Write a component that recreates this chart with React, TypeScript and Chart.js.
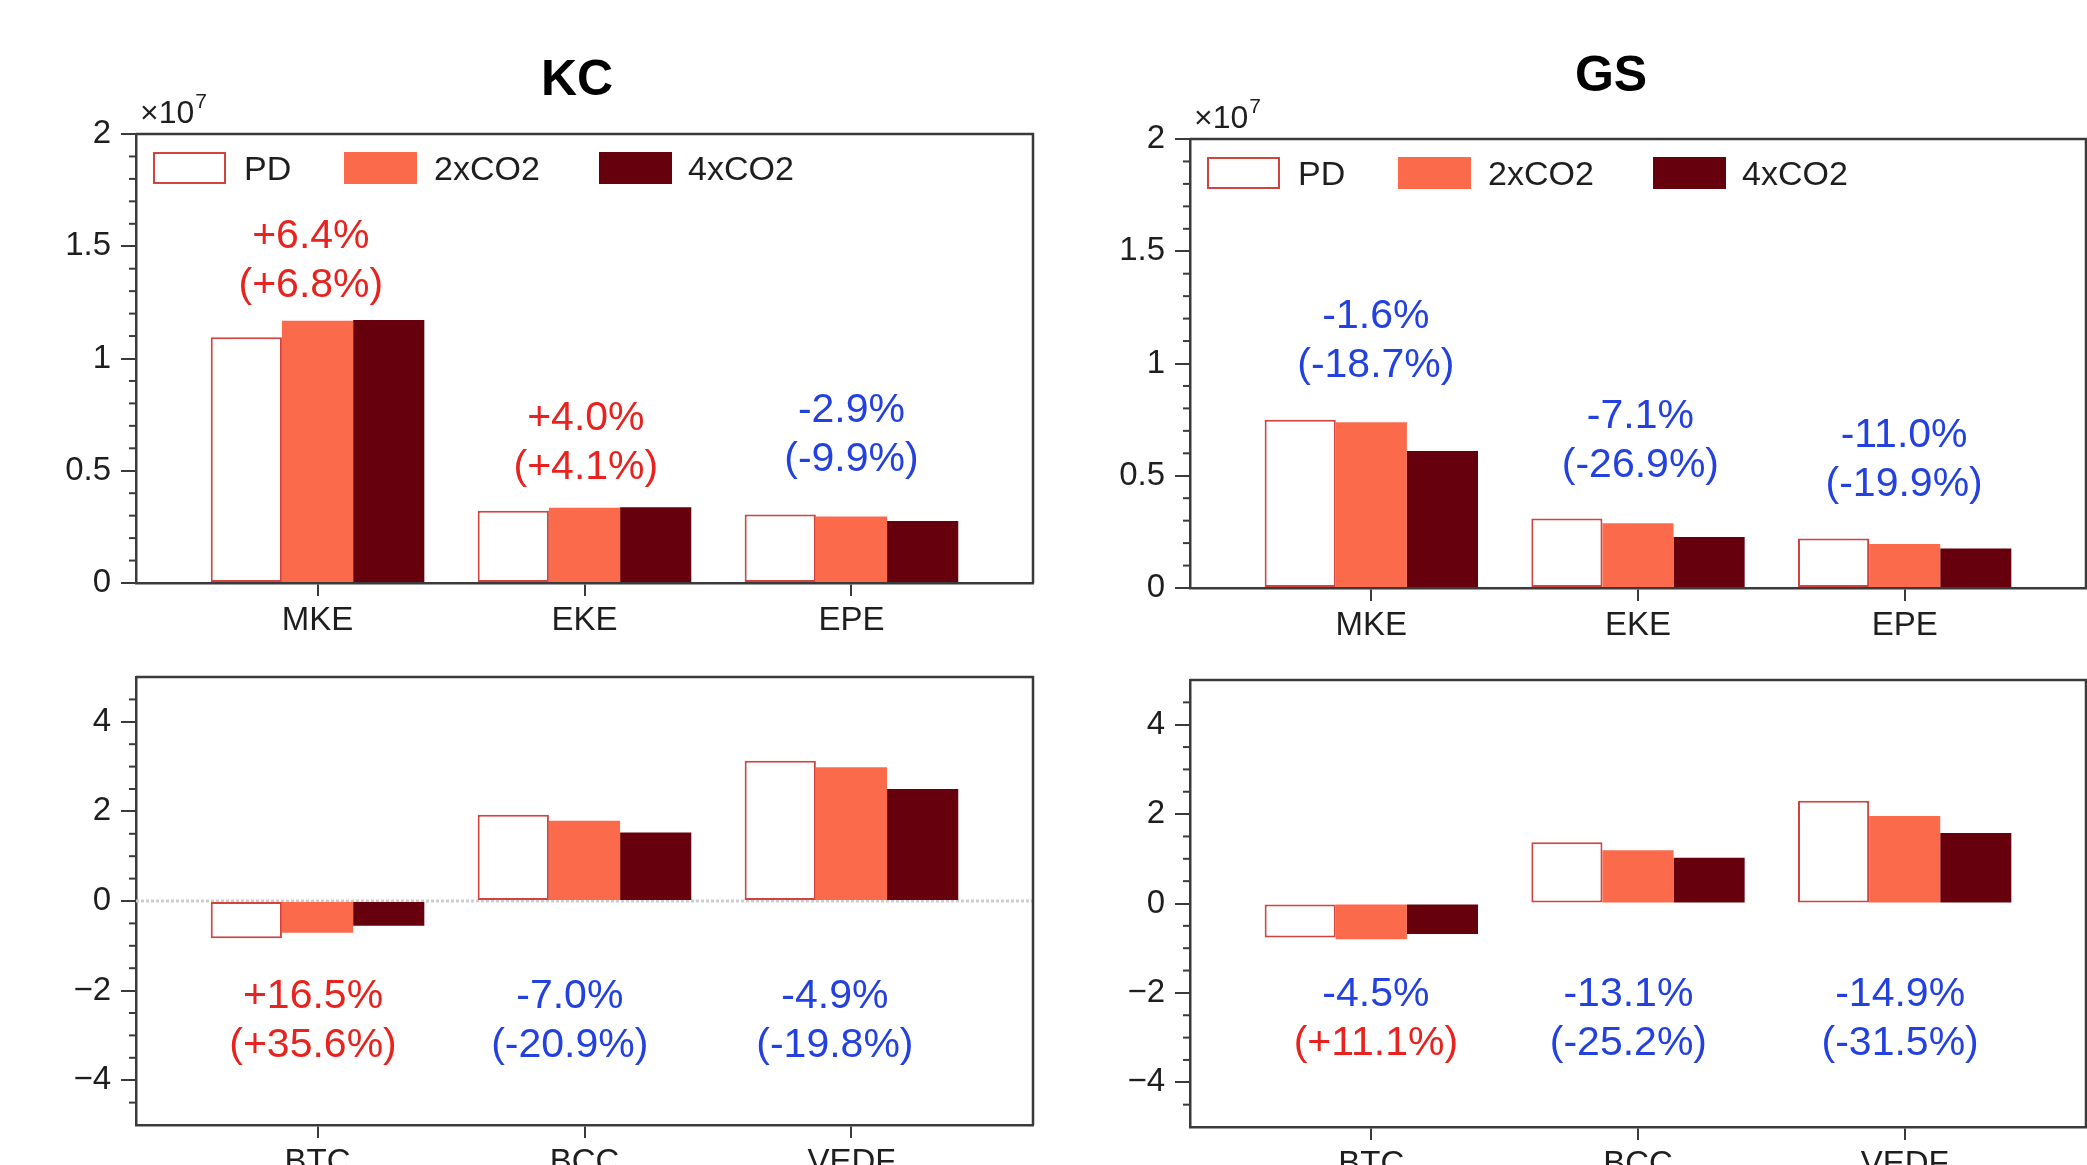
import React, { useEffect, useRef } from "react";
import { Chart, registerables } from "chart.js";

Chart.register(...registerables);

// ---------- data ----------
const topCategories = ["MKE", "EKE", "EPE"];
const bottomCategories = ["BTC", "BCC", "VEDF"];
const seriesNames = ["PD", "2xCO2", "4xCO2"];

// KC energy (×10^7)
const kcTopPD = [1.095, 0.322, 0.305];
const kcTop2x = [1.168, 0.335, 0.296];
const kcTop4x = [1.172, 0.337, 0.276];
// GS energy (×10^7)
const gsTopPD = [0.75, 0.31, 0.22];
const gsTop2x = [0.738, 0.288, 0.196];
const gsTop4x = [0.61, 0.227, 0.176];
// KC conversion terms
const kcBotPD = [-0.83, 1.925, 3.13];
const kcBot2x = [-0.71, 1.79, 2.985];
const kcBot4x = [-0.55, 1.53, 2.5];
// GS conversion terms
const gsBotPD = [-0.76, 1.373, 2.3];
const gsBot2x = [-0.8, 1.194, 1.96];
const gsBot4x = [-0.68, 1.025, 1.575];

const topTickValues = [0, 0.5, 1, 1.5, 2];
const topTickLabels = ["0", "0.5", "1", "1.5", "2"];
const bottomTickValues = [-4, -2, 0, 2, 4];
const bottomTickLabels = ["\u22124", "\u22122", "0", "2", "4"];

// percentage annotations: [line1, line2]
const kcTopText1 = ["+6.4%", "+4.0%", "-2.9%"];
const kcTopText2 = ["(+6.8%)", "(+4.1%)", "(-9.9%)"];
const gsTopText1 = ["-1.6%", "-7.1%", "-11.0%"];
const gsTopText2 = ["(-18.7%)", "(-26.9%)", "(-19.9%)"];
const kcBotText1 = ["+16.5%", "-7.0%", "-4.9%"];
const kcBotText2 = ["(+35.6%)", "(-20.9%)", "(-19.8%)"];
const gsBotText1 = ["-4.5%", "-13.1%", "-14.9%"];
const gsBotText2 = ["(+11.1%)", "(-25.2%)", "(-31.5%)"];

// annotation anchors (data coordinates of first line centre)
const kcTopAnnX = [-0.025, 1.005, 2.0];
const kcTopAnnY = [1.555, 0.742, 0.778];
const gsTopAnnX = [0.017, 1.009, 1.998];
const gsTopAnnY = [1.222, 0.777, 0.692];
const kcBotAnnX = [-0.017, 0.945, 1.938];
const kcBotAnnY = [-2.07, -2.07, -2.07];
const gsBotAnnX = [0.017, 0.964, 1.983];
const gsBotAnnY = [-1.97, -1.97, -1.97];

// ---------- styles ----------
const FONT = "'Liberation Sans', Arial, Helvetica, sans-serif";
const RED = "#e8221e";
const BLUE = "#2341df";
const PD_BORDER = "#d2433f";
const C2X = "#fb6a4a";
const C4X = "#67000d";
const AXIS = "#3a3a3a";
const TEXT = "#1e1e1e";

type PanelProps = {
  left: number;
  top: number;
  width: number;
  height: number;
  pad: { left: number; right: number; top: number; bottom: number };
  categories: string[];
  pd: number[];
  x2: number[];
  x4: number[];
  yMin: number;
  yMax: number;
  tickValues: number[];
  tickLabels: string[];
  minorStep: number;
  text1: string[];
  text2: string[];
  color1: string[];
  color2: string[];
  annX: number[];
  annY: number[];
  title?: string;
  titleX?: number;
  titleY?: number;
  legend?: boolean;
  zeroLine?: boolean;
};

function Panel(p: PanelProps) {
  const ref = useRef<HTMLCanvasElement | null>(null);
  useEffect(() => {
    const canvas = ref.current!;
    const catIdx = p.categories.map((_, i) => i);

    const plugin = {
      id: "decor",
      beforeDatasetsDraw(chart: any) {
        if (!p.zeroLine) return;
        const { ctx, chartArea } = chart;
        const y0 = chart.scales.y.getPixelForValue(0);
        ctx.save();
        ctx.strokeStyle = "#cdcdcd";
        ctx.lineWidth = 3;
        ctx.setLineDash([3, 2]);
        ctx.beginPath();
        ctx.moveTo(chartArea.left, y0);
        ctx.lineTo(chartArea.right, y0);
        ctx.stroke();
        ctx.restore();
      },
      afterDraw(chart: any) {
        const { ctx, chartArea } = chart;
        const xs = chart.scales.x;
        const ys = chart.scales.y;
        ctx.save();
        // frame top & right
        ctx.strokeStyle = AXIS;
        ctx.lineWidth = 2.5;
        ctx.beginPath();
        ctx.moveTo(chartArea.left, chartArea.top);
        ctx.lineTo(chartArea.right, chartArea.top);
        ctx.lineTo(chartArea.right, chartArea.bottom);
        ctx.stroke();
        // minor ticks
        ctx.lineWidth = 2;
        const n = Math.round((p.yMax - p.yMin) / p.minorStep);
        for (let k = 1; k < n; k++) {
          const v = p.yMin + k * p.minorStep;
          if (p.tickValues.some((t) => Math.abs(t - v) < 1e-6)) continue;
          const py = ys.getPixelForValue(v);
          ctx.beginPath();
          ctx.moveTo(chartArea.left - 7, py);
          ctx.lineTo(chartArea.left, py);
          ctx.stroke();
        }
        // title
        if (p.title) {
          ctx.fillStyle = "#000";
          ctx.font = `bold 50px ${FONT}`;
          ctx.textAlign = "center";
          ctx.textBaseline = "alphabetic";
          ctx.fillText(p.title, p.titleX!, p.titleY!);
        }
        // legend + exponent
        if (p.legend) {
          ctx.fillStyle = TEXT;
          ctx.textAlign = "left";
          ctx.textBaseline = "alphabetic";
          ctx.font = `32px ${FONT}`;
          const ex = chartArea.left + 4;
          const ey = chartArea.top - 11;
          ctx.fillText("\u00d710", ex, ey);
          const w = ctx.measureText("\u00d710").width;
          ctx.font = `21px ${FONT}`;
          ctx.fillText("7", ex + w + 1, ey - 15);

          const boxX = [17, 208, 463];
          const txtX = [108, 298, 552];
          const fills = ["#ffffff", C2X, C4X];
          const strokes = [PD_BORDER, C2X, C4X];
          for (let i = 0; i < 3; i++) {
            const bx = chartArea.left + boxX[i];
            const by = chartArea.top + 18;
            ctx.fillStyle = fills[i];
            ctx.fillRect(bx, by, 73, 32);
            ctx.strokeStyle = strokes[i];
            ctx.lineWidth = 2;
            ctx.strokeRect(bx + 1, by + 1, 71, 30);
            ctx.fillStyle = TEXT;
            ctx.font = `34px ${FONT}`;
            ctx.fillText(seriesNames[i], chartArea.left + txtX[i], chartArea.top + 34 + 12);
          }
        }
        // annotations
        ctx.textAlign = "center";
        ctx.textBaseline = "alphabetic";
        ctx.font = `41px ${FONT}`;
        for (let i = 0; i < p.text1.length; i++) {
          const ax = xs.getPixelForValue(p.annX[i]);
          const ay = ys.getPixelForValue(p.annY[i]);
          ctx.fillStyle = p.color1[i];
          ctx.fillText(p.text1[i], ax, ay + 14);
          ctx.fillStyle = p.color2[i];
          ctx.fillText(p.text2[i], ax, ay + 49 + 14);
        }
        ctx.restore();
      },
    };

    const mk = (vals: number[]) => vals.map((v, i) => ({ x: catIdx[i], y: v }));

    const chart = new Chart(canvas, {
      type: "bar",
      data: {
        datasets: [
          {
            label: seriesNames[0],
            data: mk(p.pd),
            backgroundColor: "#ffffff",
            borderColor: PD_BORDER,
            borderWidth: 2,
            borderSkipped: false,
          },
          {
            label: seriesNames[1],
            data: mk(p.x2),
            backgroundColor: C2X,
            borderColor: C2X,
            borderWidth: 0,
          },
          {
            label: seriesNames[2],
            data: mk(p.x4),
            backgroundColor: C4X,
            borderColor: C4X,
            borderWidth: 0,
          },
        ],
      } as any,
      options: {
        animation: false,
        responsive: false,
        maintainAspectRatio: false,
        layout: { padding: p.pad, autoPadding: false } as any,
        plugins: {
          legend: { display: false },
          tooltip: { enabled: false },
          title: { display: false },
        },
        datasets: { bar: { categoryPercentage: 0.8, barPercentage: 1.0 } },
        scales: {
          x: {
            type: "linear",
            min: -0.68,
            max: 2.68,
            offset: false,
            afterBuildTicks: (s: any) => {
              s.ticks = catIdx.map((v) => ({ value: v }));
            },
            afterFit: (s: any) => {
              s.height = 50;
              s.paddingLeft = 0;
              s.paddingRight = 0;
            },
            ticks: {
              callback: (_v: any, i: number) => p.categories[i],
              font: { family: FONT, size: 33 },
              color: TEXT,
              padding: 5,
              maxRotation: 0,
              autoSkip: false,
            },
            grid: {
              offset: false,
              drawOnChartArea: false,
              drawTicks: true,
              tickLength: 13,
              color: AXIS,
              lineWidth: 2,
            },
            border: { display: true, color: AXIS, width: 2.5 },
          },
          y: {
            type: "linear",
            min: p.yMin,
            max: p.yMax,
            afterBuildTicks: (s: any) => {
              s.ticks = p.tickValues.map((v) => ({ value: v }));
            },
            afterFit: (s: any) => {
              s.width = 120;
              s.paddingTop = 0;
              s.paddingBottom = 0;
            },
            ticks: {
              callback: (_v: any, i: number) => p.tickLabels[i],
              font: { family: FONT, size: 33 },
              color: TEXT,
              padding: 10,
              autoSkip: false,
            },
            grid: {
              drawOnChartArea: false,
              drawTicks: true,
              tickLength: 15,
              color: AXIS,
              lineWidth: 2,
            },
            border: { display: true, color: AXIS, width: 2.5 },
          },
        },
      } as any,
      plugins: [plugin],
    });
    return () => chart.destroy();
  }, []);

  return (
    <canvas
      ref={ref}
      width={p.width}
      height={p.height}
      style={{
        position: "absolute",
        left: p.left,
        top: p.top,
        width: p.width,
        height: p.height,
      }}
    />
  );
}

const colorFor = (s: string) => (s.indexOf("+") >= 0 ? RED : BLUE);

export default function App() {
  return (
    <div
      style={{
        position: "fixed",
        left: 0,
        top: 0,
        width: 2087,
        height: 1165,
        overflow: "hidden",
        background: "#ffffff",
      }}
    >
      <Panel
        left={0}
        top={0}
        width={1045}
        height={640}
        pad={{ left: 16, right: 12, top: 134, bottom: 7 }}
        categories={topCategories}
        pd={kcTopPD}
        x2={kcTop2x}
        x4={kcTop4x}
        yMin={0}
        yMax={2}
        tickValues={topTickValues}
        tickLabels={topTickLabels}
        minorStep={0.1}
        text1={kcTopText1}
        text2={kcTopText2}
        color1={kcTopText1.map(colorFor)}
        color2={kcTopText2.map(colorFor)}
        annX={kcTopAnnX}
        annY={kcTopAnnY}
        title="KC"
        titleX={577}
        titleY={95}
        legend
      />
      <Panel
        left={1045}
        top={0}
        width={1042}
        height={640}
        pad={{ left: 25, right: 1, top: 139, bottom: 2 }}
        categories={topCategories}
        pd={gsTopPD}
        x2={gsTop2x}
        x4={gsTop4x}
        yMin={0}
        yMax={2}
        tickValues={topTickValues}
        tickLabels={topTickLabels}
        minorStep={0.1}
        text1={gsTopText1}
        text2={gsTopText2}
        color1={gsTopText1.map(colorFor)}
        color2={gsTopText2.map(colorFor)}
        annX={gsTopAnnX}
        annY={gsTopAnnY}
        title="GS"
        titleX={566}
        titleY={91}
        legend
      />
      <Panel
        left={0}
        top={640}
        width={1045}
        height={560}
        pad={{ left: 16, right: 12, top: 37, bottom: 25 }}
        categories={bottomCategories}
        pd={kcBotPD}
        x2={kcBot2x}
        x4={kcBot4x}
        yMin={-5}
        yMax={5}
        tickValues={bottomTickValues}
        tickLabels={bottomTickLabels}
        minorStep={0.5}
        text1={kcBotText1}
        text2={kcBotText2}
        color1={kcBotText1.map(colorFor)}
        color2={kcBotText2.map(colorFor)}
        annX={kcBotAnnX}
        annY={kcBotAnnY}
        zeroLine
      />
      <Panel
        left={1045}
        top={640}
        width={1042}
        height={560}
        pad={{ left: 25, right: 1, top: 40, bottom: 23 }}
        categories={bottomCategories}
        pd={gsBotPD}
        x2={gsBot2x}
        x4={gsBot4x}
        yMin={-5}
        yMax={5}
        tickValues={bottomTickValues}
        tickLabels={bottomTickLabels}
        minorStep={0.5}
        text1={gsBotText1}
        text2={gsBotText2}
        color1={gsBotText1.map(colorFor)}
        color2={gsBotText2.map(colorFor)}
        annX={gsBotAnnX}
        annY={gsBotAnnY}
      />
    </div>
  );
}
